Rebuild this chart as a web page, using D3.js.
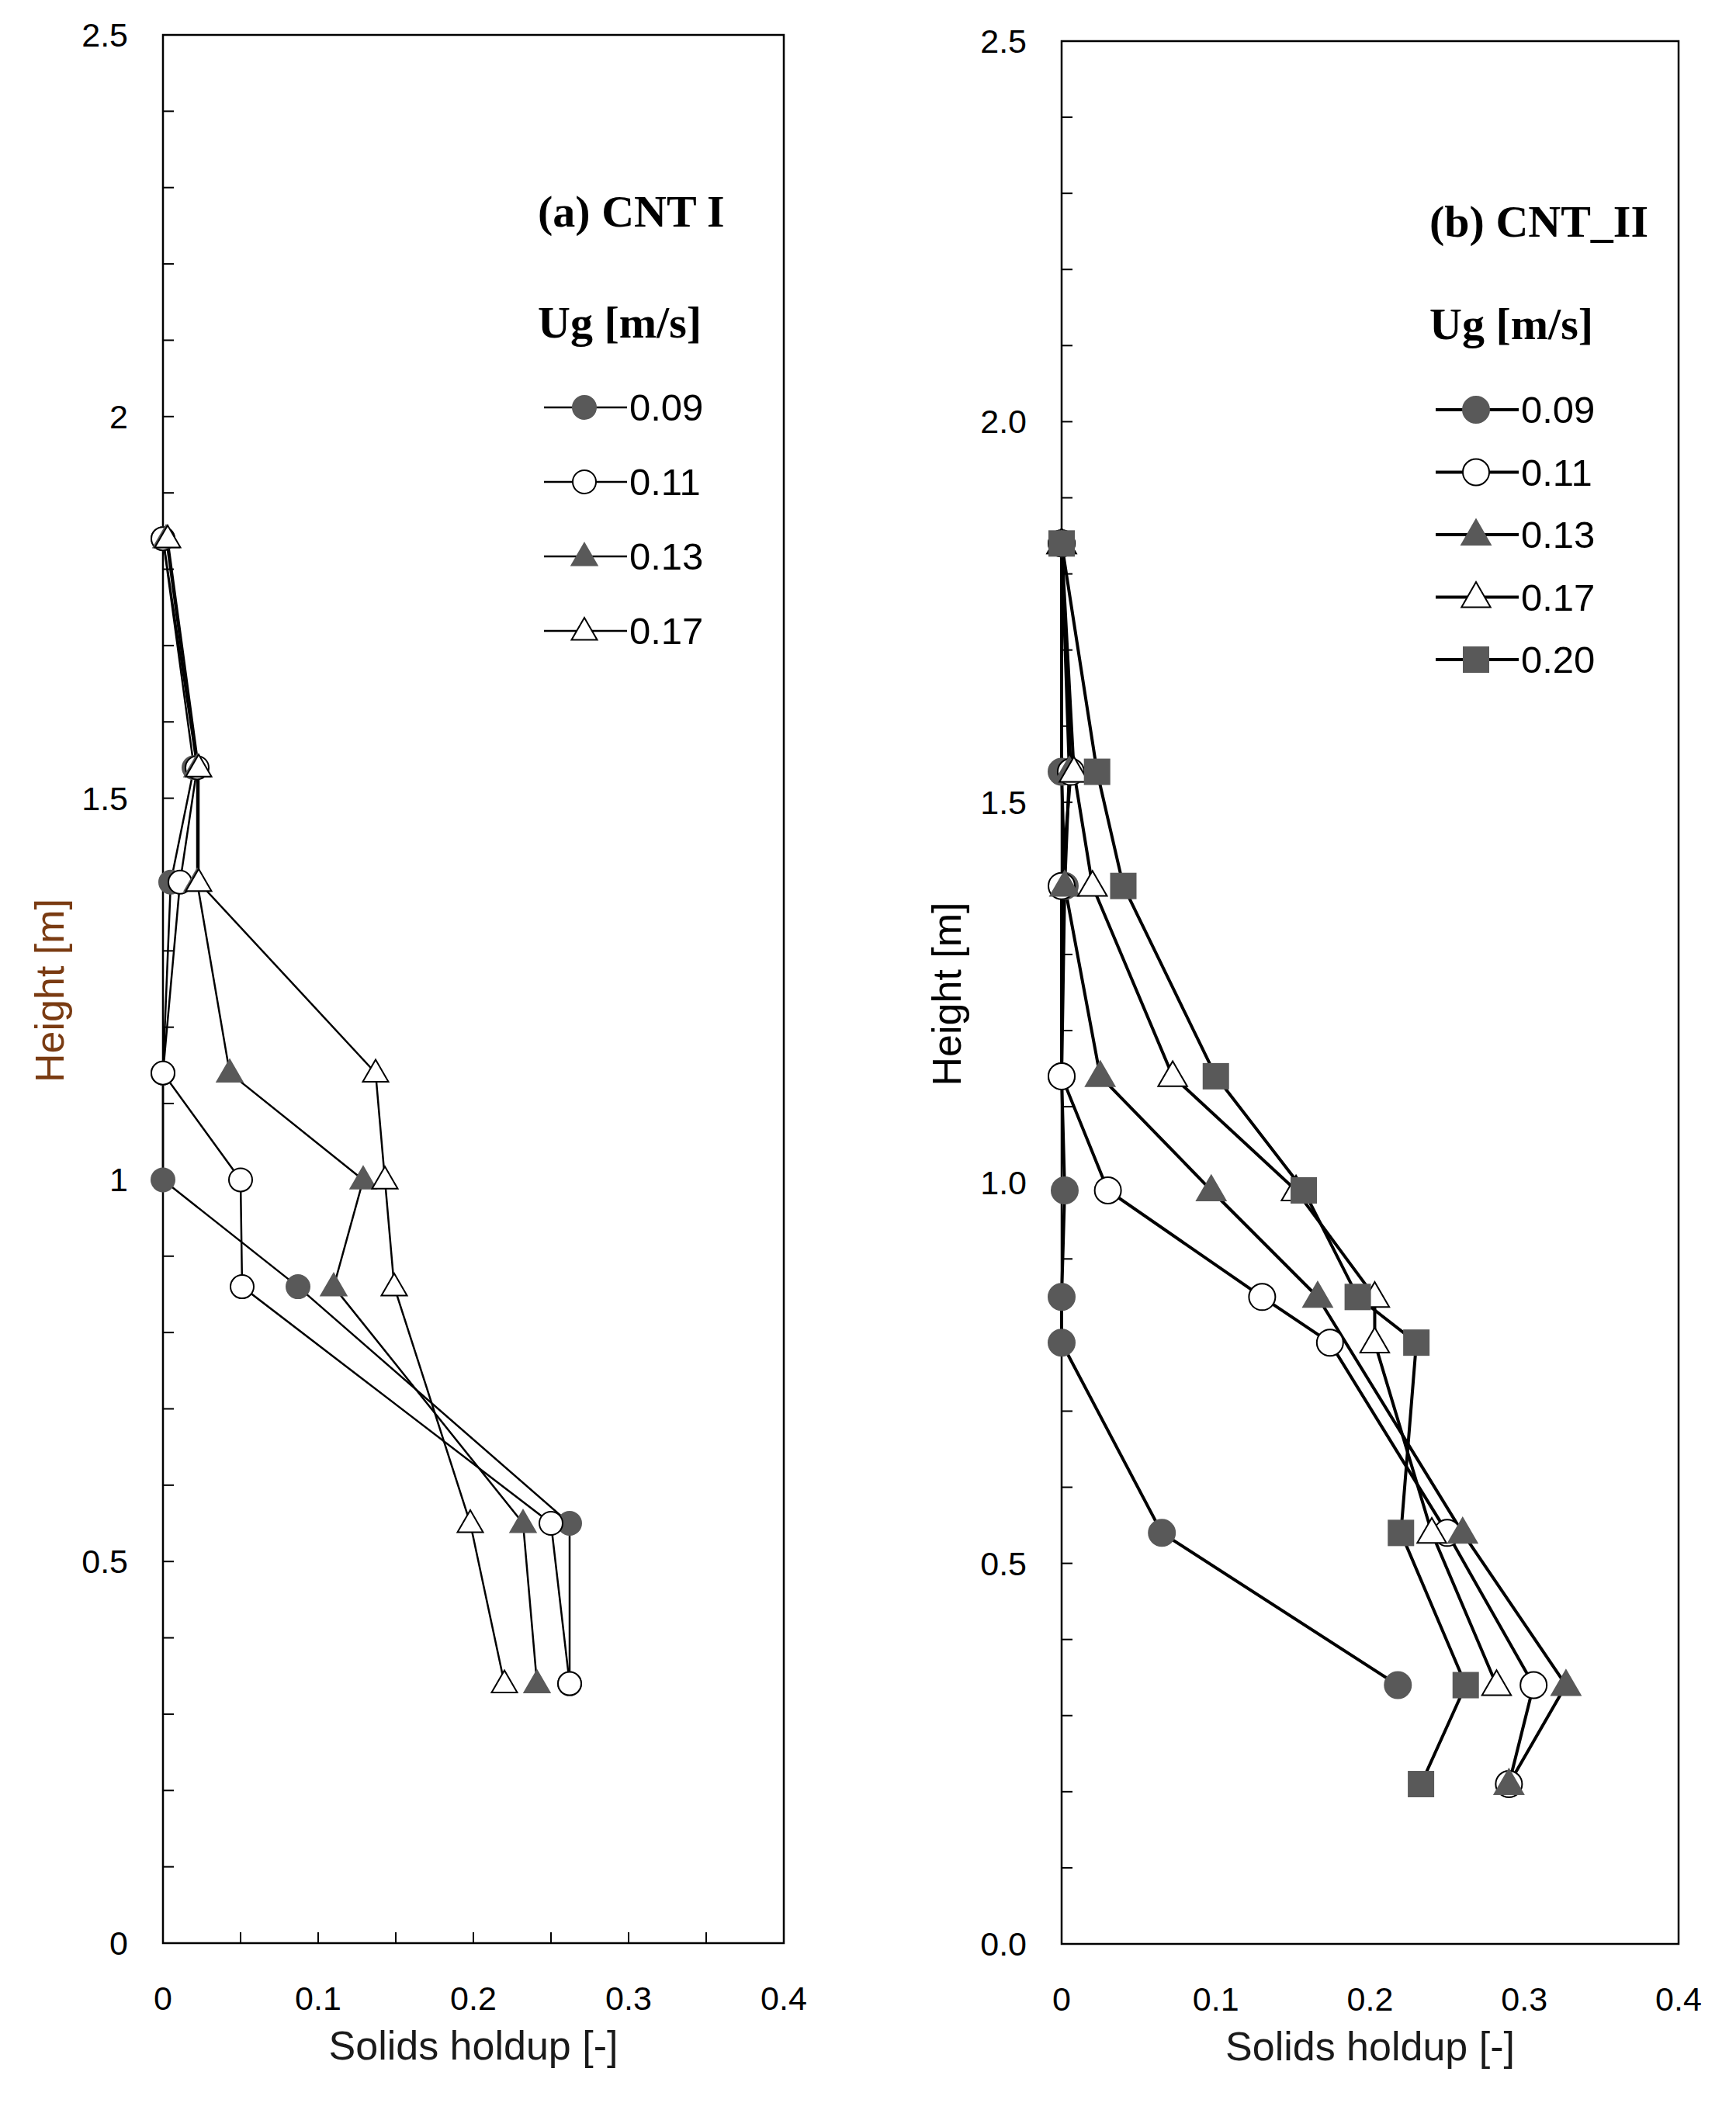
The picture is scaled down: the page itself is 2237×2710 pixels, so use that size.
<!DOCTYPE html>
<html>
<head>
<meta charset="utf-8">
<script src="https://cdn.jsdelivr.net/npm/d3@7"></script>
<style>
  body { margin: 0; background: #fff; }
  text { font-family: "Liberation Sans", Arial, sans-serif; }
</style>
</head>
<body>
<svg id="chart" width="2237" height="2710"></svg>
<script>
// ---- data: [solids holdup, height] ----
const seriesA = ["0.09", "0.11", "0.13", "0.17"];
const cntI_009 = [[0,1.84],[0.02,1.54],[0.005,1.39],[0,1.14],[0,1.0],[0.087,0.86],[0.262,0.55],[0.262,0.34]];
const cntI_011 = [[0,1.84],[0.022,1.54],[0.011,1.39],[0,1.14],[0.05,1.0],[0.051,0.86],[0.25,0.55],[0.262,0.34]];
const cntI_013 = [[0.002,1.84],[0.022,1.54],[0.022,1.39],[0.043,1.14],[0.129,1.0],[0.11,0.86],[0.232,0.55],[0.241,0.34]];
const cntI_017 = [[0.003,1.84],[0.023,1.54],[0.023,1.39],[0.137,1.14],[0.143,1.0],[0.149,0.86],[0.198,0.55],[0.22,0.34]];

const seriesB = ["0.09", "0.11", "0.13", "0.17", "0.20"];
const cntII_009 = [[0,1.84],[0,1.54],[0.002,1.39],[0,1.14],[0.002,0.99],[0,0.85],[0,0.79],[0.065,0.54],[0.218,0.34]];
const cntII_011 = [[0,1.84],[0.006,1.54],[0,1.39],[0,1.14],[0.03,0.99],[0.13,0.85],[0.174,0.79],[0.25,0.54],[0.306,0.34],[0.29,0.21]];
const cntII_013 = [[0,1.84],[0.005,1.54],[0.002,1.39],[0.025,1.14],[0.097,0.99],[0.166,0.85],[0.26,0.54],[0.327,0.34],[0.29,0.21]];
const cntII_017 = [[0,1.84],[0.008,1.54],[0.02,1.39],[0.072,1.14],[0.152,0.99],[0.203,0.85],[0.203,0.79],[0.24,0.54],[0.282,0.34]];
const cntII_020 = [[0,1.84],[0.023,1.54],[0.04,1.39],[0.1,1.14],[0.157,0.99],[0.192,0.85],[0.23,0.79],[0.22,0.54],[0.262,0.34],[0.233,0.21]];

const xTicksA = [0, 0.1, 0.2, 0.3, 0.4];
const yTicksA = [0, 0.5, 1, 1.5, 2, 2.5];
const xTicksB = [0, 0.1, 0.2, 0.3, 0.4];
const yTicksB = [0, 0.5, 1.0, 1.5, 2.0, 2.5];

const svg = d3.select("#chart");
const grey = "#595959";

// marker drawing
function marker(g, type, x, y, r) {
    if (type === "fc" || type === "oc") {
        g.append("circle").attr("cx", x).attr("cy", y).attr("r", r)
            .attr("fill", type === "fc" ? grey : "#fff")
            .attr("stroke", type === "fc" ? grey : "#000").attr("stroke-width", 2);
    } else if (type === "ft" || type === "ot") {
        const h = r * 1.9;
        g.append("path")
            .attr("d", `M${x},${y - h * 0.6}L${x + r * 1.1},${y + h * 0.4}L${x - r * 1.1},${y + h * 0.4}Z`)
            .attr("fill", type === "ft" ? grey : "#fff")
            .attr("stroke", type === "ft" ? grey : "#000").attr("stroke-width", 2);
    } else {
        g.append("rect").attr("x", x - r).attr("y", y - r).attr("width", 2 * r).attr("height", 2 * r)
            .attr("fill", grey);
    }
}

function panel(o) {
    const x = d3.scaleLinear().domain([0, 0.4]).range([o.x0, o.x1]);
    const y = d3.scaleLinear().domain([0, 2.5]).range([o.y0, o.y1]);
    const g = svg.append("g");

    g.append("rect").attr("x", o.x0).attr("y", o.y1)
        .attr("width", o.x1 - o.x0).attr("height", o.y0 - o.y1)
        .attr("fill", "none").attr("stroke", "#000").attr("stroke-width", 2.5);

    // minor ticks
    d3.range(0, 2.51, 0.1).forEach(v => {
        g.append("line").attr("x1", o.x0).attr("x2", o.x0 + 14)
            .attr("y1", y(v)).attr("y2", y(v)).attr("stroke", "#000").attr("stroke-width", 2);
    });
    if (o.xMinor) {
        d3.range(0, 0.401, 0.05).forEach(v => {
            g.append("line").attr("x1", x(v)).attr("x2", x(v))
                .attr("y1", o.y0).attr("y2", o.y0 - 14).attr("stroke", "#000").attr("stroke-width", 2);
        });
    }

    g.selectAll(".xt").data(o.xTicks).join("text")
        .attr("x", d => x(d)).attr("y", o.y0 + 86)
        .attr("text-anchor", "middle").attr("font-size", 43).text(d => d3.format("")(d));
    g.selectAll(".yt").data(o.yTicks).join("text")
        .attr("x", o.x0 - 45).attr("y", d => y(d) + 15)
        .attr("text-anchor", "end").attr("font-size", 43).text(d => o.yFmt(d));

    g.append("text").attr("x", (o.x0 + o.x1) / 2).attr("y", o.y0 + 150)
        .attr("text-anchor", "middle").attr("font-size", 52).attr("fill", "#1a1a1a")
        .text("Solids holdup [-]");
    g.append("text").attr("transform", `translate(${o.yLabX},${(o.y0 + o.y1) / 2 + 2}) rotate(-90)`)
        .attr("text-anchor", "middle").attr("font-size", 52).attr("fill", o.labColor)
        .text("Height [m]");

    // series
    const line = d3.line().x(d => x(d[0])).y(d => y(d[1]));
    o.data.forEach((s, i) => {
        g.append("path").attr("d", line(s)).attr("fill", "none")
            .attr("stroke", "#000").attr("stroke-width", o.lw);
    });
    o.data.forEach((s, i) => {
        s.forEach(d => marker(g, o.types[i], x(d[0]), y(d[1]), o.r));
    });

    // legend
    g.append("text").attr("x", o.legX).attr("y", o.titleY)
        .style("font-family", "'Liberation Serif', serif").attr("font-weight", "bold")
        .attr("font-size", 58).text(o.title);
    g.append("text").attr("x", o.legX).attr("y", o.ugY)
        .style("font-family", "'Liberation Serif', serif").attr("font-weight", "bold")
        .attr("font-size", 58).text("Ug [m/s]");
    o.names.forEach((n, i) => {
        const ly = o.legY0 + i * o.legDy;
        g.append("line").attr("x1", o.legX + 8).attr("x2", o.legX + 115)
            .attr("y1", ly).attr("y2", ly).attr("stroke", "#000").attr("stroke-width", o.lw);
        marker(g, o.types[i], o.legX + 60, ly, o.r);
        g.append("text").attr("x", o.legX + 118).attr("y", ly + 17)
            .attr("font-size", 49).text(n);
    });
}

panel({
    x0: 210, x1: 1010, y0: 2504, y1: 45, xMinor: true,
    xTicks: xTicksA, yTicks: yTicksA, yFmt: d => d3.format("")(d),
    yLabX: 82, labColor: "#7a3b12", lw: 2.5, r: 15,
    data: [cntI_009, cntI_011, cntI_013, cntI_017], types: ["fc", "oc", "ft", "ot"],
    names: seriesA, title: "(a) CNT I", legX: 693, titleY: 292, ugY: 435,
    legY0: 525, legDy: 96
});

panel({
    x0: 1368, x1: 2163, y0: 2505, y1: 53, xMinor: false,
    xTicks: xTicksB, yTicks: yTicksB, yFmt: d => d3.format(".1f")(d),
    yLabX: 1238, labColor: "#000", lw: 4, r: 17,
    data: [cntII_009, cntII_011, cntII_013, cntII_017, cntII_020], types: ["fc", "oc", "ft", "ot", "sq"],
    names: seriesB, title: "(b) CNT_II", legX: 1842, titleY: 305, ugY: 437,
    legY0: 528, legDy: 80.5
});
</script>
</body>
</html>
